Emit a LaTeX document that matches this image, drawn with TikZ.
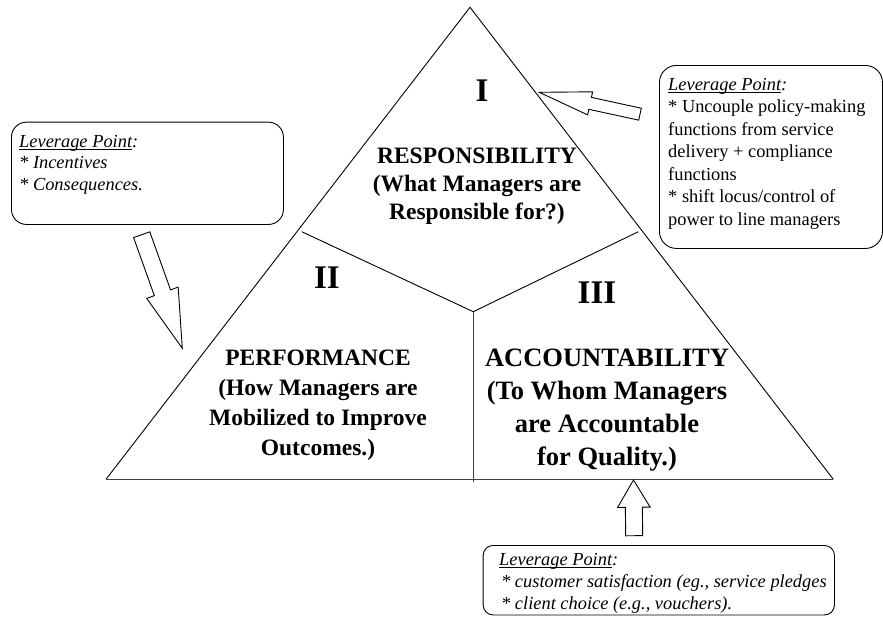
\documentclass[tikz,border=0pt]{standalone}
\usepackage{fontspec}
\setmainfont{Liberation Serif}
\usetikzlibrary{calc}
\tikzset{
  side/.style={draw=black, line width=0.9pt},
  baseln/.style={draw=black!75, line width=1.3pt},
  blockarrow/.style={draw=black, line width=0.9pt, fill=white, line join=miter},
  lpbox/.style={draw=black, line width=0.9pt, rectangle, inner sep=0pt, anchor=north west},
  lptext/.style={inner sep=0pt, anchor=north west, align=left},
  numeral/.style={inner sep=0pt, font=\fontsize{33}{33}\selectfont\bfseries},
  section/.style={inner sep=0pt, align=center}
}
\newcommand\blockarr[5]{%
  \coordinate (#1n) at ($(#2)!#5!(#1)$);
  \draw[blockarrow] ($(#1)!#3!90:(#2)$) -- ($(#1n)!#3!90:(#2)$) -- ($(#1n)!#4!90:(#2)$) -- (#2)
    -- ($(#1n)!#4!-90:(#2)$) -- ($(#1n)!#3!-90:(#2)$) -- ($(#1)!#3!-90:(#2)$) -- cycle;}
\newcommand\ulnd[1]{\setbox0\hbox{#1}\rlap{\rule[-2.2pt]{\wd0}{0.8pt}}\box0}
\begin{document}
\begin{tikzpicture}[x=1pt,y=-1pt]
\useasboundingbox (0,0) rectangle (883,616);
% triangle
\coordinate (apex) at (470,7.3);
\coordinate (bl) at (106,479.3);
\coordinate (br) at (833.3,479.3);
\draw[side] (bl) -- (apex) -- (br);
\draw[baseln] (bl) -- (br);
\coordinate (J) at (473.3,311.7);
\coordinate (Jl) at (301.7,231.7);
\coordinate (Jr) at (638.3,231.7);
\coordinate (Jb) at (473.3,481.8);
\draw[side] (Jl) -- (J) -- (Jr);
\draw[baseln] (J) -- (Jb);
% numerals
\node[numeral] (nI) at (482,91) {I};
\node[numeral] (nII) at (327,277.5) {II};
\node[numeral] (nIII) at (597,293) {III};
% section texts
\node[section, font=\fontsize{23.5}{28}\selectfont\bfseries] (sI) at (477,186)
  {RESPONSIBILITY\\(What Managers are\\Responsible for?)};
\node[section, font=\fontsize{23.5}{30}\selectfont\bfseries] (sII) at (318,405.5)
  {PERFORMANCE\\(How Managers are\\Mobilized to Improve\\Outcomes.)};
\node[section, font=\fontsize{26.5}{33}\selectfont\bfseries] (sIII) at (607,410.5)
  {ACCOUNTABILITY\\(To Whom Managers\\are Accountable\\for Quality.)};
% boxes
\node[lpbox, rounded corners=15pt, minimum width=272pt, minimum height=102.3pt] (lbox) at (11,121.7) {};
\node[lpbox, rounded corners=17pt, minimum width=223pt, minimum height=183pt] (rbox) at (659,65) {};
\node[lpbox, rounded corners=10pt, minimum width=351.3pt, minimum height=69.5pt] (bbox) at (482.7,545) {};
% box texts
\node[lptext, font=\fontsize{18.4}{21.5}\selectfont\itshape] (ltext) at (19,135) 
  {\ulnd{Leverage Point}:\\{}* Incentives\\{}* Consequences.};
\node[lptext, font=\fontsize{18.4}{22.5}\selectfont] (rtext) at (668,78) 
  {\textit{\ulnd{Leverage Point}:}\\{}* Uncouple policy-making\\functions from service\\delivery + compliance\\functions\\{}* shift locus/control of\\power to line managers};
\node[lptext, font=\fontsize{18.4}{22}\selectfont\itshape] (btext) at (499,553) 
  {\ulnd{Leverage Point}:\\\hspace*{2pt}* customer satisfaction (eg., service pledges\\\hspace*{2pt}* client choice (e.g., vouchers).};
% block arrows
\coordinate (ltail) at (141.7,234.7);
\coordinate (ltip) at (182.3,348.3);
\blockarr{ltail}{ltip}{8.6pt}{16.7pt}{59pt}
\coordinate (rtail) at (640,114.2);
\coordinate (rtip) at (539.3,92.3);
\blockarr{rtail}{rtip}{6.1pt}{11.8pt}{52pt}
\coordinate (btail) at (634.2,535.7);
\coordinate (btip) at (633.5,480);
\blockarr{btail}{btip}{8.5pt}{16.3pt}{27.3pt}
\end{tikzpicture}
\end{document}
